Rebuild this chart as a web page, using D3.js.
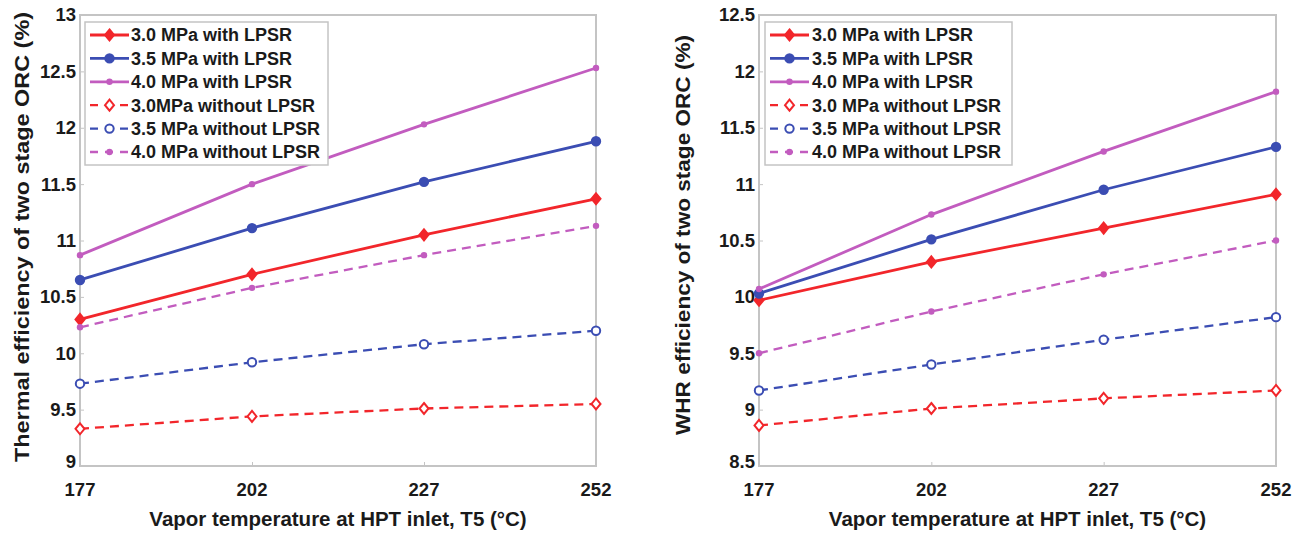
<!DOCTYPE html>
<html>
<head>
<meta charset="utf-8">
<script src="https://cdn.jsdelivr.net/npm/d3@7"></script>
<style>
    body { margin: 0; background: #fff; }
    svg text { font-family: "Liberation Sans", Arial, sans-serif; font-weight: bold; fill: #1a1a1a; }
</style>
</head>
<body>
<div id="chart"></div>
<script>

// x values (vapor temperature at HPT inlet, °C)
const temps = [177, 202, 227, 252];

// left panel - thermal efficiency (%)
const thermal30With = [10.30, 10.70, 11.05, 11.37];
const thermal35With = [10.65, 11.11, 11.52, 11.88];
const thermal40With = [10.87, 11.50, 12.03, 12.53];
const thermal30Without = [9.33, 9.44, 9.51, 9.55];
const thermal35Without = [9.73, 9.92, 10.08, 10.20];
const thermal40Without = [10.23, 10.58, 10.87, 11.13];

// right panel - WHR efficiency (%)
const whr30With = [9.97, 10.31, 10.61, 10.91];
const whr35With = [10.03, 10.51, 10.95, 11.33];
const whr40With = [10.07, 10.73, 11.29, 11.82];
const whr30Without = [8.86, 9.01, 9.10, 9.17];
const whr35Without = [9.17, 9.40, 9.62, 9.82];
const whr40Without = [9.50, 9.87, 10.20, 10.50];

const thermalTicks = [9, 9.5, 10, 10.5, 11, 11.5, 12, 12.5, 13];
const whrTicks = [8.5, 9, 9.5, 10, 10.5, 11, 11.5, 12, 12.5];

const leftLabels = ["3.0 MPa with LPSR", "3.5 MPa with LPSR", "4.0 MPa with LPSR",
    "3.0MPa without LPSR", "3.5 MPa without LPSR", "4.0 MPa without LPSR"];
const rightLabels = ["3.0 MPa with LPSR", "3.5 MPa with LPSR", "4.0 MPa with LPSR",
    "3.0 MPa without LPSR", "3.5 MPa without LPSR", "4.0 MPa without LPSR"];

const RED = "#f2262b", BLUE = "#3b4db3", PURPLE = "#c25cbf";

// style per series (same order as labels)
const styles = [
    {color: RED, dash: null, marker: "diamond", filled: true},
    {color: BLUE, dash: null, marker: "circle", filled: true},
    {color: PURPLE, dash: null, marker: "dot", filled: true},
    {color: RED, dash: "9,6", marker: "diamond", filled: false},
    {color: BLUE, dash: "9,6", marker: "circle", filled: false},
    {color: PURPLE, dash: "9,6", marker: "dot", filled: true}
];

const svg = d3.select("#chart").append("svg")
    .attr("width", 1306)
    .attr("height", 534);

function drawMarker(g, s, x, y) {
    if (s.marker === "diamond") {
        g.append("path")
            .attr("d", `M${x},${y - 5.5}L${x + 4.5},${y}L${x},${y + 5.5}L${x - 4.5},${y}Z`)
            .attr("fill", s.filled ? s.color : "#fff")
            .attr("stroke", s.color).attr("stroke-width", 2);
    } else if (s.marker === "circle") {
        g.append("circle")
            .attr("cx", x).attr("cy", y).attr("r", 4.2)
            .attr("fill", s.filled ? s.color : "#fff")
            .attr("stroke", s.color).attr("stroke-width", 2);
    } else {
        g.append("circle")
            .attr("cx", x).attr("cy", y).attr("r", 3.2)
            .attr("fill", s.color);
    }
}

function drawPanel(opt) {
    let g = svg.append("g");

    let x = d3.scaleLinear().domain([177, 252]).range([opt.left, opt.right]);
    let y = d3.scaleLinear().domain(opt.yDomain).range([opt.bottom, opt.top]);

    // box
    g.append("rect")
        .attr("x", opt.left).attr("y", opt.top)
        .attr("width", opt.right - opt.left).attr("height", opt.bottom - opt.top)
        .attr("fill", "none").attr("stroke", "#c4c4c4").attr("stroke-width", 2);

    // inward ticks
    let yAxis = d3.axisLeft(y).tickValues(opt.yTicks).tickSize(-4).tickFormat("");
    g.append("g").attr("transform", `translate(${opt.left},0)`).call(yAxis)
        .call(a => a.select(".domain").remove())
        .selectAll("line").attr("stroke", "#c4c4c4");
    let xAxis = d3.axisBottom(x).tickValues(temps).tickSize(-4).tickFormat("");
    g.append("g").attr("transform", `translate(0,${opt.bottom})`).call(xAxis)
        .call(a => a.select(".domain").remove())
        .selectAll("line").attr("stroke", "#c4c4c4");

    // tick labels
    g.selectAll(".ylab").data(opt.yTicks).enter().append("text")
        .attr("x", opt.left - 4)
        .attr("y", d => y(d))
        .attr("dy", d => d === opt.yDomain[0] ? "0.1em" : "0.35em")
        .attr("text-anchor", "end")
        .style("font-size", "18.5px")
        .text(d => d);
    g.selectAll(".xlab").data(temps).enter().append("text")
        .attr("x", d => x(d))
        .attr("y", opt.bottom + 30)
        .attr("text-anchor", "middle")
        .style("font-size", "18.5px")
        .text(d => d);

    // axis titles
    g.append("text")
        .attr("x", (opt.left + opt.right) / 2)
        .attr("y", 526)
        .attr("text-anchor", "middle")
        .style("font-size", "20.5px")
        .text("Vapor temperature at HPT inlet, T5 (°C)");
    g.append("text")
        .attr("transform", `translate(${opt.yTitleX},${opt.yTitleY}) rotate(-90)`)
        .attr("text-anchor", "middle")
        .attr("textLength", opt.yTitleLen)
        .attr("lengthAdjust", "spacingAndGlyphs")
        .style("font-size", "21px")
        .text(opt.yTitle);

    // series
    let line = d3.line().x((d, i) => x(temps[i])).y(d => y(d));
    opt.series.forEach((vals, k) => {
        let s = styles[k];
        g.append("path")
            .datum(vals)
            .attr("d", line)
            .attr("fill", "none")
            .attr("stroke", s.color)
            .attr("stroke-width", s.dash ? 2.3 : 2.8)
            .attr("stroke-dasharray", s.dash);
        vals.forEach((v, i) => drawMarker(g, s, x(temps[i]), y(v)));
    });

    // legend
    let lg = g.append("g");
    lg.append("rect")
        .attr("x", opt.legX).attr("y", 22)
        .attr("width", opt.legW).attr("height", 143)
        .attr("fill", "#fff").attr("stroke", "#c4c4c4").attr("stroke-width", 1.5);
    opt.labels.forEach((lab, k) => {
        let s = styles[k];
        let ly = 35 + k * 23.4;
        let x0 = opt.legX + 5, x1 = opt.legX + 44;
        lg.append("line")
            .attr("x1", x0).attr("x2", x1).attr("y1", ly).attr("y2", ly)
            .attr("stroke", s.color)
            .attr("stroke-width", s.dash ? 2.3 : 2.8)
            .attr("stroke-dasharray", s.dash ? "8,7" : null);
        drawMarker(lg, s, (x0 + x1) / 2, ly);
        lg.append("text")
            .attr("x", opt.legX + opt.textOff)
            .attr("y", ly)
            .attr("dy", "0.36em")
            .style("font-size", "18px")
            .text(lab);
    });
}

drawPanel({
    left: 80, right: 596, top: 15, bottom: 466,
    yDomain: [9, 13], yTicks: thermalTicks,
    yTitle: "Thermal efficiency of two stage ORC (%)", yTitleX: 29, yTitleY: 237, yTitleLen: 450,
    series: [thermal30With, thermal35With, thermal40With, thermal30Without, thermal35Without, thermal40Without],
    labels: leftLabels, legX: 85, legW: 243, textOff: 46
});

drawPanel({
    left: 759, right: 1276, top: 15, bottom: 466,
    yDomain: [8.5, 12.5], yTicks: whrTicks,
    yTitle: "WHR efficiency of two stage ORC (%)", yTitleX: 690, yTitleY: 235, yTitleLen: 400,
    series: [whr30With, whr35With, whr40With, whr30Without, whr35Without, whr40Without],
    labels: rightLabels, legX: 765, legW: 247, textOff: 47
});

</script>
</body>
</html>
